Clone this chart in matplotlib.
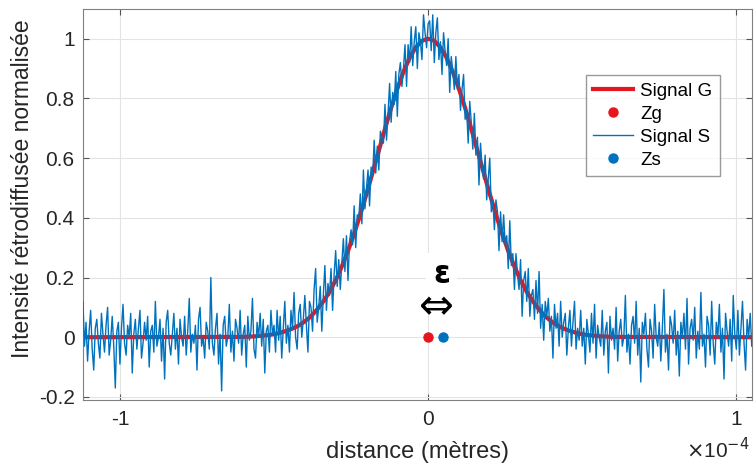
import numpy as np
import matplotlib
matplotlib.use("Agg")
import matplotlib.pyplot as plt

plt.rcParams['font.family'] = ['Liberation Sans', 'DejaVu Sans']

# signal G (gaussienne lisse), x en micrometres
x_g_um = np.concatenate([[-112], np.arange(-60, 61, 2), [105]])
signal_g = [0,
            0.001, 0.002, 0.003, 0.005, 0.007, 0.010, 0.015, 0.021, 0.029, 0.039,
            0.053, 0.070, 0.093, 0.120, 0.152, 0.191, 0.237, 0.289, 0.347, 0.411,
            0.480, 0.552, 0.625, 0.698, 0.768, 0.832, 0.889, 0.936, 0.971, 0.993,
            1.000,
            0.993, 0.971, 0.936, 0.889, 0.832, 0.768, 0.698, 0.625, 0.552, 0.480,
            0.411, 0.347, 0.289, 0.237, 0.191, 0.152, 0.120, 0.093, 0.070, 0.053,
            0.039, 0.029, 0.021, 0.015, 0.010, 0.007, 0.005, 0.003, 0.002, 0.001,
            0]

# signal S (bruité), en centiemes, pas de 0.5 um de -112 a 105 um
signal_s_pct = [
    # -112 .. -50.5
    12, -3, 5, -8, 2, 9, -4, -11, 3, 6, -2, -7, 8, 1, -5, 4, 10, -6, -1, 7,
    -3, -17, 2, 5, -9, 3, 11, -2, -6, 4, 0, 8, -12, 1, 6, -4, 3, 9, -7, -2,
    5, -1, 7, -10, 2, 4, -5, 12, -3, 0, 6, -8, 3, -14, 5, 9, -2, -6, 1, 8,
    -4, 3, -9, 6, 0, -3, 7, -6, 2, 13, -5, 1, -2, 4, -11, 6, 10, -3, 0, -7,
    5, 2, -4, 20, -2, -6, 3, 8, -9, 1, -18, 4, 7, -3, 0, 11, -5, 2, -8, 6,
    3, -2, 9, -6, 1, 4, -10, 7, -1, 2, 13, -4, -7, 5, 0, 8, -3, 6, -12, 2,
    4, -5, 9, 1,
    # -50 .. 0
    4, -5, 9, -1, 7, -7, 3, 12, -2, 4, -5, 9, 3, 15, 0, -4, 8, 11, 0, 6,
    14, 4, -5, 12, 10, 2, 16, 23, 5, 10, 17, 2, 14, 24, 9, 18, 14, 23, 9, 21,
    29, 17, 26, 16, 25, 33, 22, 34, 19, 32, 36, 31, 44, 30, 41, 40, 48, 38, 56, 43,
    50, 56, 44, 57, 54, 66, 55, 64, 56, 69, 67, 65, 78, 66, 75, 85, 72, 82, 78, 89,
    74, 88, 92, 84, 90, 98, 84, 98, 92, 104, 91, 99, 104, 90, 102, 99, 93, 108, 102, 97,
    105,
    # 0.5 .. 50
    106, 96, 108, 92, 102, 107, 93, 99, 88, 102, 96, 91, 100, 82, 94, 89, 83, 94, 83, 88,
    76, 83, 88, 73, 76, 65, 79, 72, 63, 75, 61, 67, 51, 65, 57, 53, 61, 46, 53, 60,
    42, 46, 36, 46, 42, 29, 42, 32, 41, 31, 34, 23, 39, 24, 28, 16, 28, 21, 16, 26,
    7, 19, 22, 12, 23, 7, 14, 16, 6, 19, 8, 22, 3, 11, -1, 12, 7, 13, 2, 7,
    -7, 11, 3, 8, -3, 12, 0, 5, 8, -6, 3, 9, -3, 5, 12, -4, 3, -1, 9, -3,
    # 50.5 .. 105
    3, -9, 6, 1, -5, 8, -2, 11, -7, 4, 0, -3, 9, -6, 2, 5, -12, 7, -1, 3,
    -4, 10, -8, 2, 6, -3, 0, 14, -5, 1, -9, 4, 7, -2, 12, -6, 3, -15, 5, 1,
    8, -4, -10, 6, 2, -7, 11, 0, -3, 5, -8, 3, 16, -5, 1, -11, 7, 4, -2, 9,
    -6, 2, -13, 5, 0, 8, -4, 13, -9, 3, 6, -1, 10, -7, 2, -4, 15, -3, 1, -10,
    7, 4, -6, 12, -2, -9, 5, 0, 11, -5, 3, -14, 8, 2, -3, 6, -8, 14, 1, -4,
    9, -6, 3, 12, -2, -11, 6, 0, 8, -3,
]
x_s_um = np.arange(-112, 105.01, 0.5)

# centroides
zg = (0.0, 0.0)
zs = (4.9, 0.0)

x_g = np.array(x_g_um) * 1e-6
x_s = x_s_um * 1e-6
signal_s = np.array(signal_s_pct) / 100

red = '#e5161d'
blue = '#0072bd'
txt = '#262626'

fig = plt.figure(figsize=(7.54, 4.65), dpi=100)
ax = fig.add_axes([0.110, 0.140, 0.887, 0.841])

ax.plot(x_g, signal_g, color=red, lw=3, label='Signal G', zorder=2)
ax.plot(zg[0] * 1e-6, zg[1], 'o', color=red, ms=6.5, label='Zg', zorder=4)
ax.plot(x_s, signal_s, color=blue, lw=1.0, label='Signal S', zorder=3)
ax.plot(zs[0] * 1e-6, zs[1], 'o', color=blue, ms=6.5, label='Zs', zorder=4)

ax.text(4.3e-6, 0.21, 'ε', fontsize=22, fontweight='bold', ha='center', va='center',
        family=['DejaVu Sans'], bbox=dict(facecolor='white', edgecolor='none', pad=5), zorder=5)
ax.text(2.6e-6, 0.10, '⇔', fontsize=30, ha='center', va='center',
        family=['DejaVu Sans'], zorder=5)

ax.set_xlim(-1.12e-4, 1.05e-4)
ax.set_ylim(-0.21, 1.10)
ax.set_xticks([-1e-4, 0, 1e-4])
ax.set_xticklabels(['-1', '0', '1'])
ax.set_yticks([-0.2, 0, 0.2, 0.4, 0.6, 0.8, 1.0])
ax.set_yticklabels(['-0.2', '0', '0.2', '0.4', '0.6', '0.8', '1'])
ax.tick_params(direction='in', top=True, right=True, labelsize=15, colors='#555555',
               labelcolor=txt, length=4)
ax.tick_params(axis='x', pad=7)
ax.tick_params(axis='y', pad=6)
ax.grid(True, color='#e3e3e3', lw=0.8)
ax.set_axisbelow(True)
for s in ax.spines.values():
    s.set_color('#808080')

ax.set_xlabel('distance (mètres)', fontsize=17, color=txt)
ax.xaxis.set_label_coords(0.5, -0.105, transform=ax.transAxes)
ax.xaxis.label.set_va('top')
ax.set_ylabel('Intensité rétrodiffusée normalisée', fontsize=16.5, color=txt)
ax.yaxis.set_label_coords(-0.091, 0.54, transform=ax.transAxes)
ax.yaxis.label.set_va('center')
ax.text(0.997, -0.095, r'$\times$10$^{-4}$', transform=ax.transAxes, ha='right', va='top',
        fontsize=15, color=txt)

leg = ax.legend(loc='upper left', bbox_to_anchor=(0.752, 0.831), borderaxespad=0,
                fontsize=13.5, frameon=True, fancybox=False, handlelength=2.1,
                handletextpad=0.4, labelspacing=0.32, borderpad=0.4)
leg.get_frame().set_edgecolor('#808080')
leg.get_frame().set_linewidth(1.0)

plt.savefig('out.png', dpi=100)
